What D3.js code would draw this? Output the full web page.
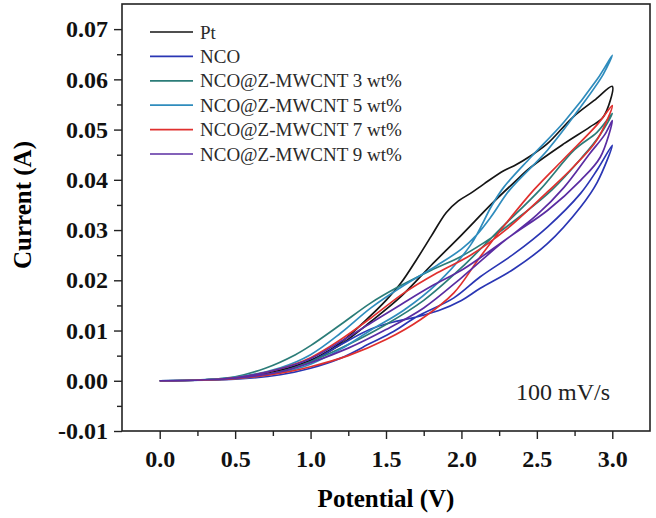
<!DOCTYPE html>
<html>
<head>
<meta charset="utf-8">
<script src="https://cdn.jsdelivr.net/npm/d3@7"></script>
<style>
  body { margin: 0; background: #fff; }
  text { font-family: 'Liberation Serif', 'Times New Roman', serif; }
</style>
</head>
<body>
<svg id="cv_chart" width="656" height="518"></svg>
<script>
// series names, colours and the two branches of each loop: [potential V, current A]
const seriesNames = ['Pt', 'NCO', 'NCO@Z-MWCNT 3 wt%', 'NCO@Z-MWCNT 5 wt%', 'NCO@Z-MWCNT 7 wt%', 'NCO@Z-MWCNT 9 wt%']
const seriesColors = ['#151515', '#2a36b4', '#2b7c78', '#2f8cbd', '#e0302e', '#5a2ca2']

const ptUpper = [[0, 0], [0.3, 0.0002], [0.5, 0.0006], [0.7, 0.0015], [0.9, 0.003], [1.05, 0.0048], [1.2, 0.0076], [1.4, 0.013], [1.5, 0.016], [1.6, 0.0195], [1.7, 0.024], [1.8, 0.0288], [1.9, 0.0335], [1.98, 0.0358], [2.06, 0.0373], [2.15, 0.0392], [2.28, 0.0418], [2.35, 0.0428], [2.46, 0.0448], [2.57, 0.0472], [2.74, 0.0525], [2.88, 0.0558], [3.0, 0.0586]]
const ptLower = [[3.0, 0.0586], [2.94, 0.0525], [2.85, 0.0505], [2.68, 0.0472], [2.46, 0.0425], [2.35, 0.0395], [2.2, 0.0352], [2.0, 0.029], [1.8, 0.023], [1.6, 0.0168], [1.4, 0.0118], [1.2, 0.0072], [1.0, 0.0039], [0.8, 0.0018], [0.5, 0.0005], [0, 0]]

const ncoA = [[0, 0], [0.5, 0.0005], [0.8, 0.0018], [1.0, 0.0038], [1.2, 0.0072], [1.4, 0.0103], [1.55, 0.0117], [1.7, 0.0127], [1.85, 0.014], [2.0, 0.016], [2.125, 0.0184], [2.35, 0.0223], [2.57, 0.0273], [2.79, 0.0346], [2.9, 0.0395], [3.0, 0.0469]]
const ncoB = [[3.0, 0.0469], [2.9, 0.042], [2.79, 0.0373], [2.57, 0.0306], [2.35, 0.0253], [2.125, 0.0207], [1.95, 0.0165], [1.7, 0.0127], [1.55, 0.0098], [1.4, 0.0075], [1.2, 0.0045], [1.0, 0.0025], [0.8, 0.0012], [0.5, 0.0003], [0, 0]]

const wt3A = [[0, 0], [0.3, 0.0002], [0.5, 0.0008], [0.7, 0.0025], [0.9, 0.0052], [1.0, 0.007], [1.2, 0.0112], [1.4, 0.0155], [1.57, 0.0185], [1.8, 0.022], [2.0, 0.0248], [2.2, 0.0285], [2.4, 0.033], [2.6, 0.038], [2.8, 0.0445], [2.92, 0.049], [3.0, 0.0532]]
const wt3B = [[3.0, 0.0532], [2.9, 0.0495], [2.75, 0.046], [2.52, 0.038], [2.25, 0.03], [2.0, 0.0225], [1.75, 0.016], [1.5, 0.0112], [1.25, 0.0072], [1.0, 0.0038], [0.8, 0.0018], [0.5, 0.0005], [0, 0]]

const wt5A = [[0, 0], [0.5, 0.0007], [0.8, 0.0026], [1.0, 0.0052], [1.2, 0.0095], [1.4, 0.0145], [1.62, 0.019], [1.84, 0.023], [2.0, 0.0262], [2.1, 0.029], [2.2, 0.0328], [2.32, 0.038], [2.57, 0.0459], [2.79, 0.0545], [2.94, 0.061], [3.0, 0.0648]]
const wt5B = [[3.0, 0.0648], [2.9, 0.06], [2.68, 0.0515], [2.46, 0.0445], [2.28, 0.0385], [2.2, 0.0348], [2.06, 0.027], [1.84, 0.0194], [1.62, 0.0141], [1.4, 0.0101], [1.2, 0.0063], [1.0, 0.0033], [0.8, 0.0016], [0.5, 0.0004], [0, 0]]

const wt7A = [[0, 0], [0.5, 0.0006], [0.8, 0.0024], [1.0, 0.0046], [1.2, 0.0082], [1.4, 0.0125], [1.62, 0.0175], [1.84, 0.0215], [2.06, 0.025], [2.3, 0.0302], [2.57, 0.0376], [2.74, 0.0425], [2.9, 0.048], [3.0, 0.0548]]
const wt7B = [[3.0, 0.0548], [2.9, 0.051], [2.68, 0.0442], [2.48, 0.038], [2.3, 0.0315], [2.12, 0.0245], [1.95, 0.0175], [1.73, 0.0122], [1.5, 0.0082], [1.25, 0.005], [1.0, 0.0028], [0.8, 0.0015], [0.5, 0.0004], [0, 0]]

const wt9A = [[0, 0], [0.5, 0.0006], [0.8, 0.0024], [1.0, 0.0044], [1.2, 0.0078], [1.4, 0.0115], [1.6, 0.0152], [1.8, 0.0188], [2.0, 0.022], [2.125, 0.0245], [2.35, 0.0293], [2.57, 0.0339], [2.79, 0.0399], [2.92, 0.0445], [3.0, 0.0518]]
const wt9B = [[3.0, 0.0518], [2.95, 0.049], [2.85, 0.0452], [2.68, 0.0385], [2.5, 0.033], [2.25, 0.027], [2.0, 0.0205], [1.75, 0.0145], [1.5, 0.0102], [1.25, 0.0065], [1.0, 0.0036], [0.8, 0.0018], [0.5, 0.0005], [0, 0]]

const loops = [[ptUpper, ptLower], [ncoA, ncoB], [wt3A, wt3B], [wt5A, wt5B], [wt7A, wt7B], [wt9A, wt9B]]

const xTicks = [0, 0.5, 1, 1.5, 2, 2.5, 3]
const xMinor = [0.25, 0.75, 1.25, 1.75, 2.25, 2.75]
const yTicks = [-0.01, 0, 0.01, 0.02, 0.03, 0.04, 0.05, 0.06, 0.07]
const yMinor = [-0.005, 0.005, 0.015, 0.025, 0.035, 0.045, 0.055, 0.065]

const svg = d3.select('#cv_chart')
const margin = { top: 4, right: 6, bottom: 87, left: 122 }
const width = +svg.attr('width') - margin.left - margin.right
const height = +svg.attr('height') - margin.top - margin.bottom
const g = svg.append('g').attr('transform', 'translate(' + margin.left + ',' + margin.top + ')')

const x = d3.scaleLinear().domain([-0.25, 3.25]).range([0, width])
const y = d3.scaleLinear().domain([-0.01, 0.075]).range([height, 0])

// minor ticks first, then the major axes
g.append('g')
  .attr('transform', `translate(0, ${height})`)
  .call(d3.axisBottom(x).tickValues(xMinor).tickSize(5).tickFormat(''))
g.append('g').call(d3.axisLeft(y).tickValues(yMinor).tickSize(5).tickFormat(''))

g.append('g')
  .attr('transform', `translate(0, ${height})`)
  .call(d3.axisBottom(x).tickValues(xTicks).tickSize(8).tickPadding(11).tickFormat((d) => d.toFixed(1)))
g.append('g')
  .call(d3.axisLeft(y).tickValues(yTicks).tickSize(8).tickPadding(6).tickFormat((d) => d.toFixed(2)))

g.selectAll('.domain').remove()
svg.selectAll('.tick line').attr('stroke', '#222').attr('stroke-width', 1.4)
svg.selectAll('.tick text')
  .attr('fill', '#111')
  .style('font-family', "'Liberation Serif', 'Times New Roman', serif")
  .style('font-size', '24px')
  .style('font-weight', 'bold')

// frame
g.append('rect')
  .attr('width', width)
  .attr('height', height)
  .attr('fill', 'none')
  .attr('stroke', '#222')
  .attr('stroke-width', 1.6)

// the loops
const line = d3.line()
  .x((d) => x(d[0]))
  .y((d) => y(d[1]))
  .curve(d3.curveCatmullRom.alpha(0.5))

loops.forEach((lp, i) => {
  g.append('path')
    .datum(lp[0].concat(lp[1].slice(1)))
    .attr('fill', 'none')
    .attr('stroke', seriesColors[i])
    .attr('stroke-width', 1.7)
    .attr('d', line)
})

// legend
const legend = svg.append('g')
seriesNames.forEach((name, i) => {
  const ly = 32 + i * 24.4
  legend.append('line')
    .attr('x1', 150).attr('x2', 193)
    .attr('y1', ly).attr('y2', ly)
    .attr('stroke', seriesColors[i])
    .attr('stroke-width', 1.7)
  legend.append('text')
    .attr('x', 200)
    .attr('y', ly)
    .attr('dy', '0.35em')
    .attr('fill', '#2a2a2a')
    .style('font-size', '19px')
    .text(name)
})

svg.append('text')
  .attr('x', 610)
  .attr('y', 400)
  .attr('text-anchor', 'end')
  .attr('fill', '#222')
  .style('font-size', '24px')
  .text('100 mV/s')

// axis titles
svg.append('text')
  .attr('x', margin.left + width / 2)
  .attr('y', 507)
  .attr('text-anchor', 'middle')
  .style('font-size', '25px')
  .style('font-weight', 'bold')
  .text('Potential (V)')

svg.append('text')
  .attr('transform', 'translate(31, 205) rotate(-90)')
  .attr('text-anchor', 'middle')
  .style('font-size', '25px')
  .style('font-weight', 'bold')
  .text('Current (A)')
</script>
</body>
</html>
